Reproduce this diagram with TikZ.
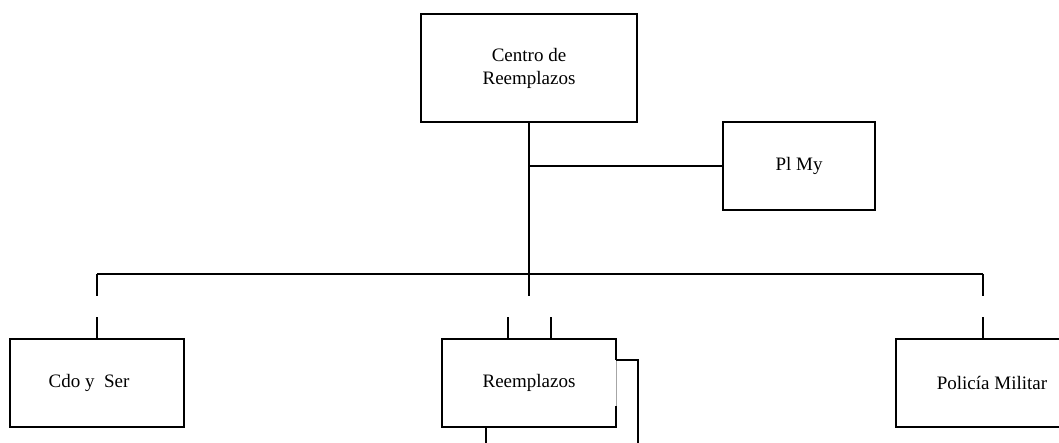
\documentclass[tikz,border=0pt]{standalone}
\usepackage{fontspec}
\setmainfont{Liberation Serif}
\begin{document}
\begin{tikzpicture}[x=1pt,y=-1pt,
  line width=1.8pt,
  box/.style={draw, rectangle, inner sep=0pt, outer sep=0pt, align=center,
    font=\fontsize{19}{23}\selectfont}]
\useasboundingbox (0,0) rectangle (1059,443);
\clip (0,0) rectangle (1059,443);
\node[box, minimum width=216pt, minimum height=108pt] (centro) at (529,68) {Centro de\\Reemplazos};
\node[box, minimum width=152pt, minimum height=88pt] (plmy) at (799,166) {Pl My};
\node[box, minimum width=174pt, minimum height=88pt] (cdo) at (97,383) {Cdo y\ \ Ser\hspace*{16pt}};
\node[box, draw=none, minimum width=174pt, minimum height=88pt] (reem) at (529,383) {Reemplazos};
\node[box, minimum width=174pt, minimum height=88pt] (pol) at (983,383) {\hspace*{18pt}Polic\'ia Militar};
% Reemplazos box outline with a break on its right side
\draw (reem.south east) ++(0,-21) coordinate (rlow) -- (reem.south east) -- (reem.south west) -- (reem.north west) -- (reem.north east) -- ++(0,21) coordinate (rhigh);
\draw[line width=0.5pt, gray!70] (rhigh) -- (rlow);
% main trunk and bus
\coordinate (bus) at (529,274);
\coordinate (busL) at (97,274);
\coordinate (busR) at (983,274);
\draw (centro.south) -- (bus);
\draw (centro.south |- plmy.west) -- (plmy.west);
\draw (busL) -- (busR);
% broken drops to the lower boxes
\draw (busL) -- ++(0,22);
\draw (cdo.north) ++(0,-22) -- (cdo.north);
\draw (bus) -- ++(0,22);
\draw (busR) -- ++(0,22);
\draw (pol.north) ++(0,-22) -- (pol.north);
\draw ([xshift=-21pt]reem.north) ++(0,-22) -- ([xshift=-21pt]reem.north);
\draw ([xshift=22pt]reem.north) ++(0,-22) -- ([xshift=22pt]reem.north);
% lines leaving Reemplazos
\draw (rhigh) -- ++(22,0) coordinate (rside) -- (rside |- 0,443);
\draw ([xshift=-43pt]reem.south) -- ++(0,17);
\end{tikzpicture}
\end{document}
